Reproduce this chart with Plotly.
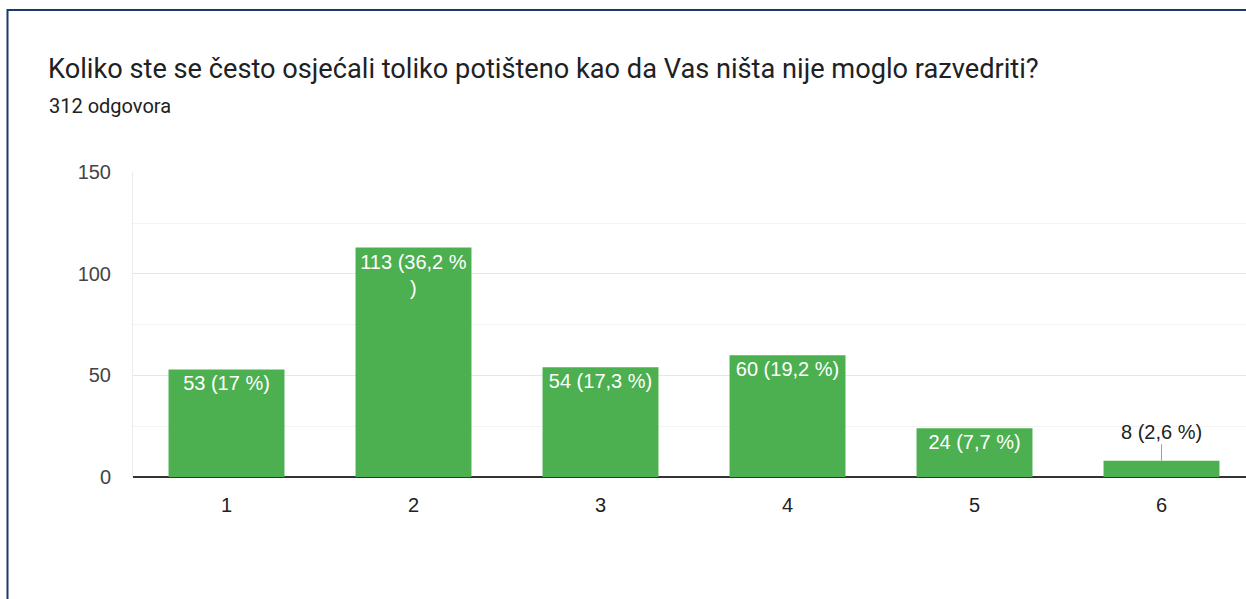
import plotly.graph_objects as go

categories = [1, 2, 3, 4, 5, 6]
counts = [53, 113, 54, 60, 24, 8]
labels = ["53 (17 %)", "113 (36,2 %<br>)", "54 (17,3 %)", "60 (19,2 %)", "24 (7,7 %)", "8 (2,6 %)"]
title_text = "Koliko ste se često osjećali toliko potišteno kao da Vas ništa nije moglo razvedriti?"
subtitle_text = "312 odgovora"
y_ticks = [0, 50, 100, 150]

W, H = 1246, 599
L, T, B = 133, 172, 122
plot_w = W - L
plot_h = H - T - B

def px_x(p):
    return (p - L) / plot_w

def px_y(p):
    return (H - B - p) / plot_h

inside_labels = [t if c >= 20 else "" for t, c in zip(labels, counts)]

fig = go.Figure()
fig.add_trace(go.Bar(
    x=categories, y=counts, width=0.62,
    marker=dict(color="#4caf50", line=dict(width=0)),
    text=inside_labels, textposition="inside", insidetextanchor="end",
    textangle=0,
    insidetextfont=dict(color="white", size=20, family="Liberation Sans, Arial"),
    hoverinfo="skip",
))

for c, v, t in zip(categories, counts, labels):
    if v < 20:
        fig.add_annotation(x=c, y=v, xref="x", yref="y", text=t,
                           showarrow=True, arrowhead=0, arrowwidth=1, arrowcolor="#9e9e9e",
                           ax=0, ay=-29,
                           font=dict(color="#222222", size=20, family="Liberation Sans, Arial"))

fig.add_annotation(x=px_x(46), y=px_y(69), xref="paper", yref="paper", xanchor="left", yanchor="middle",
                   text=title_text, showarrow=False,
                   font=dict(family="Roboto", size=27.2, color="#202124"))
fig.add_annotation(x=px_x(47), y=px_y(106), xref="paper", yref="paper", xanchor="left", yanchor="middle",
                   text=subtitle_text, showarrow=False,
                   font=dict(family="Roboto", size=20, color="#202124"))

fig.add_shape(type="rect", xref="paper", yref="paper",
              x0=px_x(7.5), x1=px_x(W + 20), y0=px_y(H + 20), y1=px_y(10),
              line=dict(color="#1d3870", width=2), fillcolor="rgba(0,0,0,0)", layer="above")

fig.update_layout(
    width=W, height=H,
    margin=dict(l=L, r=0, t=T, b=B, pad=0),
    paper_bgcolor="white", plot_bgcolor="white",
    showlegend=False,
    uniformtext=dict(mode=False),
    xaxis=dict(range=[0.5, 0.5 + plot_w / 187.0], tickvals=categories, ticktext=[str(c) for c in categories],
               showgrid=False, zeroline=False, showline=False, ticks="",
               ticklabelstandoff=14,
               tickfont=dict(family="Liberation Sans, Arial", size=20, color="#222222"), fixedrange=True),
    yaxis=dict(range=[0, 150.2], tickvals=y_ticks, showgrid=True, gridcolor="#e6e6e6", gridwidth=1,
               minor=dict(dtick=25, showgrid=True, gridcolor="#f3f3f3", gridwidth=1),
               zeroline=True, zerolinecolor="#333333", zerolinewidth=1.5,
               showline=True, linecolor="#ebebeb", linewidth=1, ticks="",
               ticklabelstandoff=17,
               tickfont=dict(family="Liberation Sans, Arial", size=20, color="#444444"), fixedrange=True),
)

fig.write_html("out.html", config={"displayModeBar": False, "staticPlot": True},
               post_script="document.body.style.margin='0';document.body.style.overflow='hidden';")
